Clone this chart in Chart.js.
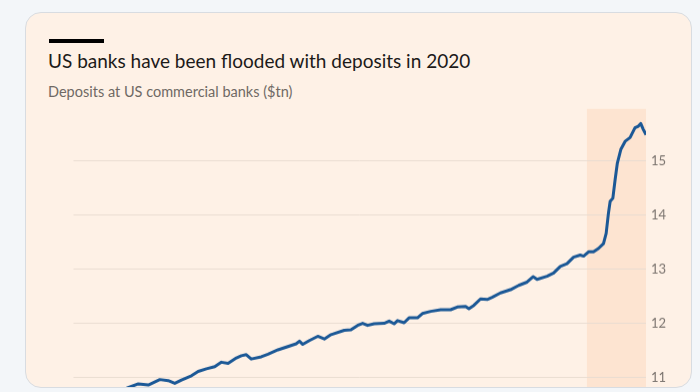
<!DOCTYPE html>
<html>
<head>
<meta charset="utf-8">
<script src="https://cdn.jsdelivr.net/npm/chart.js@4.4.1/dist/chart.umd.min.js"></script>
<style>
  html, body { margin: 0; padding: 0; width: 700px; height: 392px; overflow: hidden; background: #f3f6f9; }
  #card { position: absolute; left: 25px; top: 12px; width: 667px; height: 376px; box-sizing: border-box;
          border: 1px solid #d8dce1; border-radius: 16px; background: #fef1e6; overflow: hidden; }
  #bar { position: absolute; left: 23px; top: 26px; width: 55px; height: 4px; background: #000; }
  #title { position: absolute; left: 22px; top: 36px; font-family: Lato, sans-serif; font-size: 19px; color: #1c1a19; white-space: nowrap; }
  #sub { position: absolute; left: 22px; top: 70px; font-family: Lato, sans-serif; font-size: 14.5px; color: #6f6964; white-space: nowrap; }
  #wrap { position: absolute; left: 46px; top: 88px; width: 614px; height: 299px; }
</style>
</head>
<body>
<div id="card">
  <div id="bar"></div>
  <div id="title">US banks have been flooded with deposits in 2020</div>
  <div id="sub">Deposits at US commercial banks ($tn)</div>
  <div id="wrap"><canvas id="c"></canvas></div>
</div>
<script>
// Dates as decimal years, deposits in $tn
const dates = [2015.586,2015.725,2015.833,2015.926,2016.033,2016.111,2016.172,2016.234,2016.327,2016.389,2016.466,2016.543,2016.605,2016.667,2016.744,2016.790,2016.836,2016.882,2016.975,2017.037,2017.130,2017.222,2017.299,2017.330,2017.361,2017.422,2017.500,2017.561,2017.623,2017.746,2017.808,2017.870,2017.917,2017.963,2018.024,2018.117,2018.163,2018.209,2018.241,2018.302,2018.348,2018.426,2018.472,2018.549,2018.642,2018.734,2018.796,2018.873,2018.904,2018.950,2019.012,2019.074,2019.120,2019.197,2019.290,2019.367,2019.444,2019.500,2019.537,2019.630,2019.691,2019.753,2019.815,2019.876,2019.938,2019.969,2020.015,2020.061,2020.107,2020.154,2020.179,2020.200,2020.216,2020.241,2020.262,2020.283,2020.315,2020.355,2020.401,2020.447,2020.478,2020.500,2020.524,2020.549];
const deposits = [10.72,10.80,10.88,10.86,10.96,10.94,10.89,10.95,11.03,11.11,11.16,11.20,11.28,11.26,11.36,11.40,11.42,11.34,11.38,11.43,11.51,11.57,11.62,11.67,11.61,11.68,11.76,11.71,11.79,11.87,11.88,11.96,12.00,11.96,11.99,12.00,12.04,11.99,12.05,12.01,12.10,12.10,12.18,12.22,12.25,12.25,12.30,12.31,12.27,12.33,12.45,12.44,12.48,12.56,12.62,12.70,12.76,12.86,12.81,12.87,12.93,13.05,13.10,13.22,13.26,13.24,13.32,13.32,13.38,13.47,13.66,14.03,14.25,14.31,14.65,14.96,15.21,15.36,15.43,15.61,15.64,15.69,15.58,15.48];
const yTicks = [11, 12, 13, 14, 15];
const shadeRange = [2020.0, 2020.549];
const xRange = [2015.231, 2020.549];
const yRange = [10.716, 15.96];

const shadePlugin = {
  id: 'shade',
  beforeDraw(chart) {
    const { ctx, chartArea, scales } = chart;
    const x0 = scales.x.getPixelForValue(shadeRange[0]);
    const x1 = scales.x.getPixelForValue(shadeRange[1]);
    ctx.save();
    ctx.fillStyle = '#fde4d1';
    ctx.fillRect(x0, chartArea.top, x1 - x0, chartArea.bottom - chartArea.top);
    ctx.restore();
  }
};

const chart = new Chart(document.getElementById('c'), {
  type: 'line',
  data: {
    datasets: [{
      data: dates.map((d, i) => ({ x: d, y: deposits[i] })),
      borderColor: '#1b5896',
      borderWidth: 3,
      pointRadius: 0,
      tension: 0,
      borderJoinStyle: 'round'
    }]
  },
  options: {
    responsive: true,
    maintainAspectRatio: false,
    animation: false,
    layout: { padding: 0 },
    plugins: { legend: { display: false }, tooltip: { enabled: false } },
    scales: {
      x: { type: 'linear', min: xRange[0], max: xRange[1], display: false },
      y: {
        position: 'right',
        min: yRange[0], max: yRange[1],
        afterBuildTicks(scale) { scale.ticks = yTicks.map(v => ({ value: v })); },
        afterFit(scale) { scale.width = 40; },
        border: { display: false },
        grid: { color: '#eaddd2', lineWidth: 1, drawTicks: false },
        ticks: { padding: 5, color: '#7a736e', font: { family: 'Lato', size: 13 } }
      }
    }
  },
  plugins: [shadePlugin]
});

// Place the plot area: top edge at page y=109, bottom at page y=392 (card inner origin is 13px down)
(function fit() {
  const wrap = document.getElementById('wrap');
  const a = chart.chartArea;
  const padTop = a.top, padBottom = chart.height - a.bottom;
  const top = 109 - 13 - padTop;
  const bottom = 392 - 13 + padBottom;
  wrap.style.top = top + 'px';
  wrap.style.height = (bottom - top) + 'px';
  chart.resize();
})();
</script>
</body>
</html>
